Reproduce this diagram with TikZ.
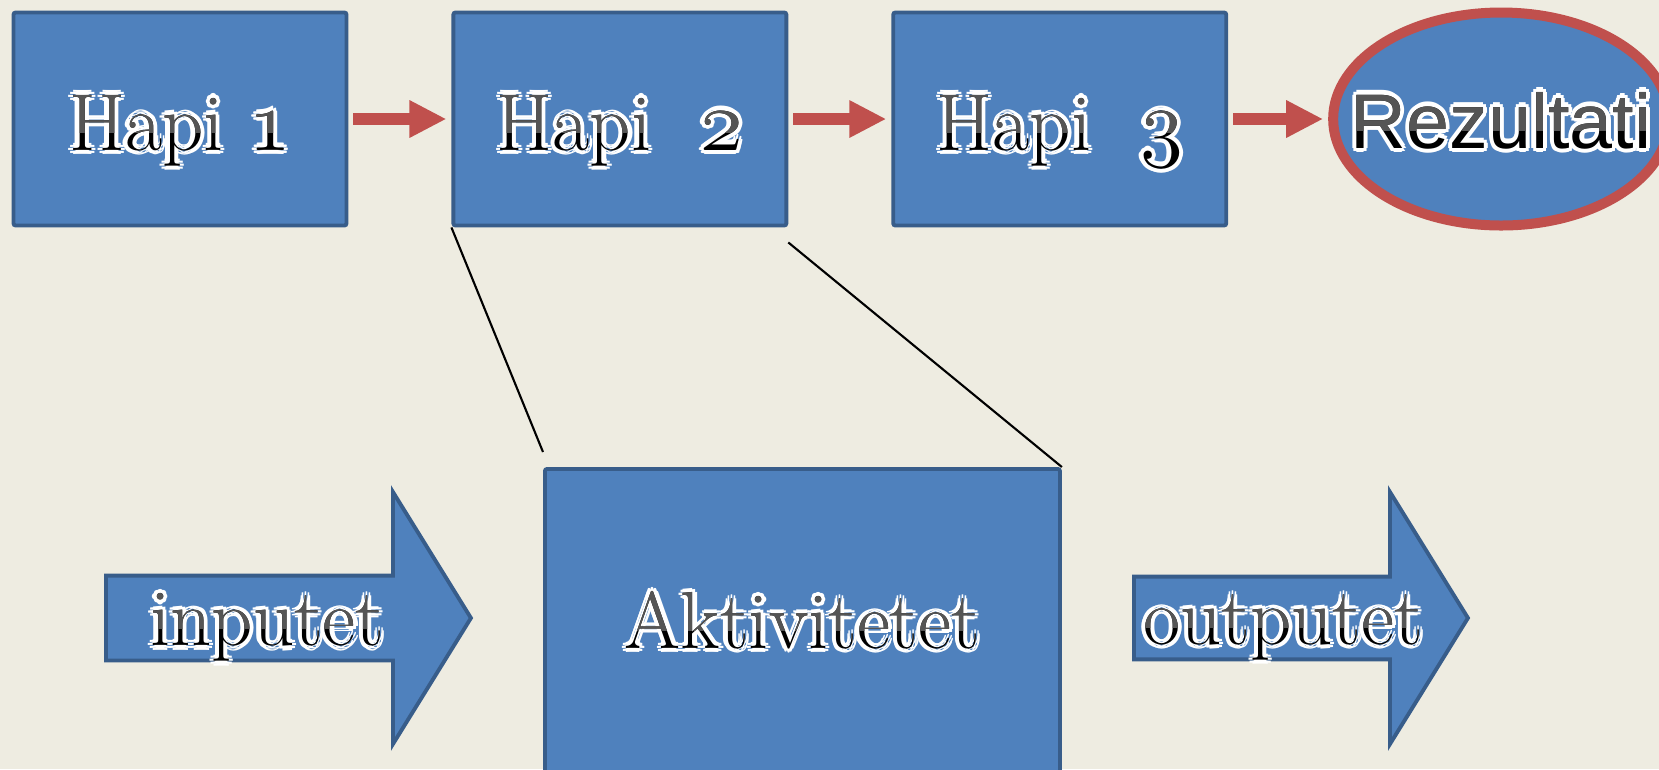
\documentclass[tikz,border=0pt]{standalone}
\usepackage{fontspec}
\newfontfamily\rezfont{Liberation Sans}
\usetikzlibrary{positioning,shapes.geometric,shapes.arrows,arrows.meta,calc}
\definecolor{bgcream}{RGB}{238,236,225}
\definecolor{boxblue}{RGB}{79,129,189}
\definecolor{boxedge}{RGB}{56,93,138}
\definecolor{stepred}{RGB}{192,80,77}
\definecolor{topgray}{RGB}{85,85,85}
\tikzstyle{hapi}=[draw=boxedge,fill=boxblue,line width=1.1pt,rounded corners=0.6pt,minimum width=33.3mm,minimum height=21.3mm,inner sep=0pt,text depth=0pt,font=\fontsize{23}{26}\selectfont]
\tikzstyle{aktbox}=[hapi,minimum width=51.5mm,minimum height=33mm,text depth=10pt]
\tikzstyle{flow}=[single arrow,draw=boxedge,fill=boxblue,line width=1.1pt,minimum height=36.5mm,minimum width=25.2mm,single arrow head extend=6.55mm,single arrow tip angle=116.5,inner sep=0pt,text depth=1pt,font=\fontsize{23}{26}\selectfont]
\tikzstyle{result}=[ellipse,draw=stepred,fill=boxblue,line width=1mm,minimum width=33.2mm,minimum height=21.3mm,inner xsep=-11pt,inner ysep=0pt,font=\rezfont\fontsize{22}{25}\selectfont]
\tikzstyle{redarrow}=[line width=1.2mm,draw=stepred,-{Triangle[length=3.7mm,width=3.5mm]},shorten <=0.5mm,shorten >=0.5mm]
\tikzstyle{zoomline}=[black,line width=0.6pt]
\tikzstyle{txtlayer}=[shape=rectangle,draw=none,fill=none,rounded corners=0pt,minimum width=0pt,minimum height=0pt,inner sep=0pt,outer sep=0pt,text depth=,text height=,anchor=base]
\newcommand\outl[1]{\tikz[baseline=0pt,x=1pt,y=1pt]{%
  \foreach \a in {0,45,...,315} \node (w\a) [txtlayer,text=white] at (\a:1.2pt) {#1};
  \node (tx) [txtlayer,text=black] at (0,0) {#1};
  \clip ($(tx.base west)+(-2pt,5pt)$) rectangle ($(tx.north east)+(2pt,2pt)$);
  \node (tg) [txtlayer,text=topgray] at (0,0) {#1};}}
\newcommand\osn[1]{{\usefont{OML}{cmm}{m}{it}#1}}

\begin{document}
\begin{tikzpicture}[x=0.1mm,y=-0.1mm]
    \fill[bgcream] (0,0) rectangle (1659,769);
    \useasboundingbox (0,0) rectangle (1659,769);

    \node (h1) [hapi] at (180,119) {\outl{Hapi \osn{1}}};
    \node (h2) [hapi] [right=10.3mm of h1] {\outl{Hapi~ \osn{2}}};
    \node (h3) [hapi] [right=10.3mm of h2] {\outl{Hapi~ \osn{3}}};
    \node (rez) [result] [right=10mm of h3] {\outl{Rezultati}};

    \path (h1) edge[redarrow] (h2);
    \path (h2) edge[redarrow] (h3);
    \path (h3) edge[redarrow] (rez);

    \node (akt) [aktbox, anchor=north west] at (543,467) {\outl{Aktivitetet}};
    \node (inp) [flow, anchor=tail] at (104,618) {\outl{inputet}\hspace*{1.6mm}};
    \node (out) [flow, minimum height=33.4mm, anchor=tail] at (1132,618) {\outl{outputet}\hspace*{1mm}};

    \coordinate (akttop) at ($(akt.north west)+(0,-15)$);
    \coordinate (h2low) at ($(h2.south east)+(0,15)$);
    \draw[zoomline] (h2.south west) -- (akttop);
    \draw[zoomline] (h2low) -- (akt.north east);
\end{tikzpicture}
\end{document}
